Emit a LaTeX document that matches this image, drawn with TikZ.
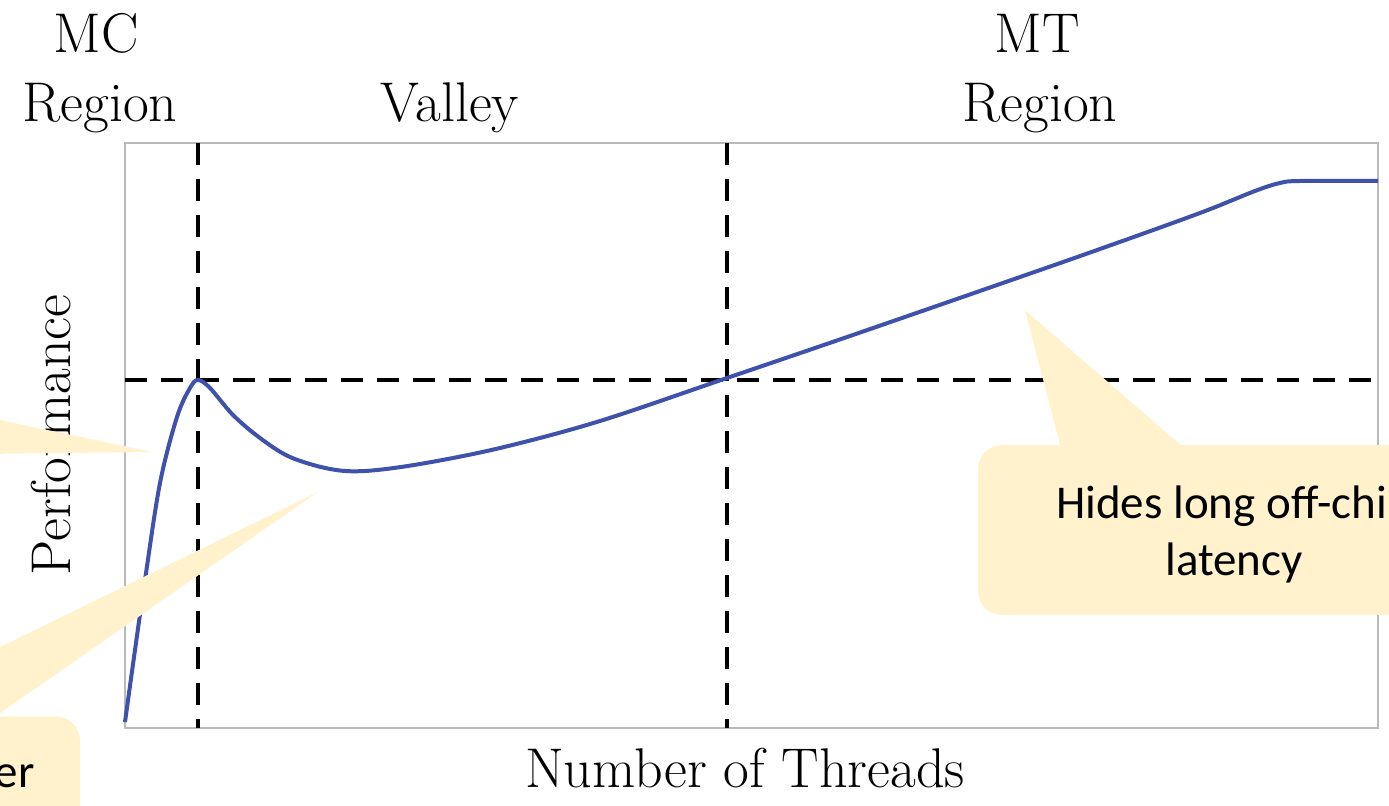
\documentclass[tikz,border=0pt]{standalone}
\usepackage{fontspec}
\usetikzlibrary{calc}
\newfontfamily\notefont{Carlito}
\definecolor{perfblue}{RGB}{62,82,172}
\definecolor{notefill}{RGB}{255,242,204}
\tikzset{frame/.style={color=#1,line width=1pt},frame/.default=gray!55}
\tikzset{guide/.style={color=#1,line width=1.7pt,dash pattern=on 11pt off 7pt},guide/.default=black}
\tikzset{curve/.style={color=#1,line width=2pt,line join=round},curve/.default=perfblue}
\tikzset{axistext/.style={inner sep=0pt,font=\fontsize{28}{33}\selectfont}}
\tikzset{note/.style={fill=#1,rounded corners=12pt,inner sep=0pt},note/.default=notefill}
\tikzset{notetext/.style={inner sep=0pt,align=center,font=\notefont\fontsize{23.5}{28.5}\selectfont}}

\begin{document}
\begin{tikzpicture}[x=0.5pt,y=-0.5pt]
	\useasboundingbox (0,0) rectangle (1389,806);
	\clip (0,0) rectangle (1389,806);

	% plot area
	\coordinate (NW) at (125,143);
	\coordinate (SE) at (1378,728);
	\coordinate (peak) at (198,380);
	\coordinate (cross) at (727,380);
	\draw [frame] (NW) rectangle (SE);
	\draw [guide] (peak |- NW) -- (peak |- SE);
	\draw [guide] (cross |- NW) -- (cross |- SE);
	\draw [guide] (NW |- peak) -- (SE |- peak);

	\draw [curve] plot [smooth,tension=0.55] coordinates {
		(125,722) (135,650) (145,580) (160,483) (177,417) (190,388) (198,380)
		(210,388) (233,415) (260,438) (290,457) (330,469) (365,471) (420,464)
		(500,448) (600,421) (727,378) (850,336) (1000,284) (1100,249)
		(1200,213) (1255,191) (1280,183) (1300,181) (1378,181)};

	% region names and axes
	\node [axistext,anchor=base] (mc) at (96,53) {MC};
	\node [axistext,anchor=base] (mcregion) at (100,122) {Region};
	\node [axistext,anchor=base] (valley) at (450,122) {Valley};
	\node [axistext,anchor=base] (mt) at (1037,53) {MT};
	\node [axistext,anchor=base] (mtregion) at (1040,122) {Region};
	\node [axistext,anchor=base] (xlabel) at (745,788) {Number of Threads};
	\node [axistext,rotate=90,anchor=base] (ylabel) at (70,435) {Performance};

	% callouts
	\fill [notefill] (152,452) -- (-100,399) -- (-100,455) -- cycle;

	\node [note,minimum width=254pt,minimum height=85pt] (hidesnote) at (1232,530) {};
	\fill [notefill] (1025,310) -- ($(hidesnote.north west)+(85,10)$)
		-- ($(hidesnote.north west)+(214,10)$) -- cycle;
	\node [notetext] (hidestext) at (1234,534) {Hides long off-chip\\latency};

	\node [note,minimum width=190pt,minimum height=141.5pt] (ernote) at (-110,858) {};
	\fill [notefill] (318,492) -- (-160,725) -- (-17,725) -- cycle;
	\node [notetext,anchor=base east] (ertext) at (35,788) {er};
\end{tikzpicture}
\end{document}
